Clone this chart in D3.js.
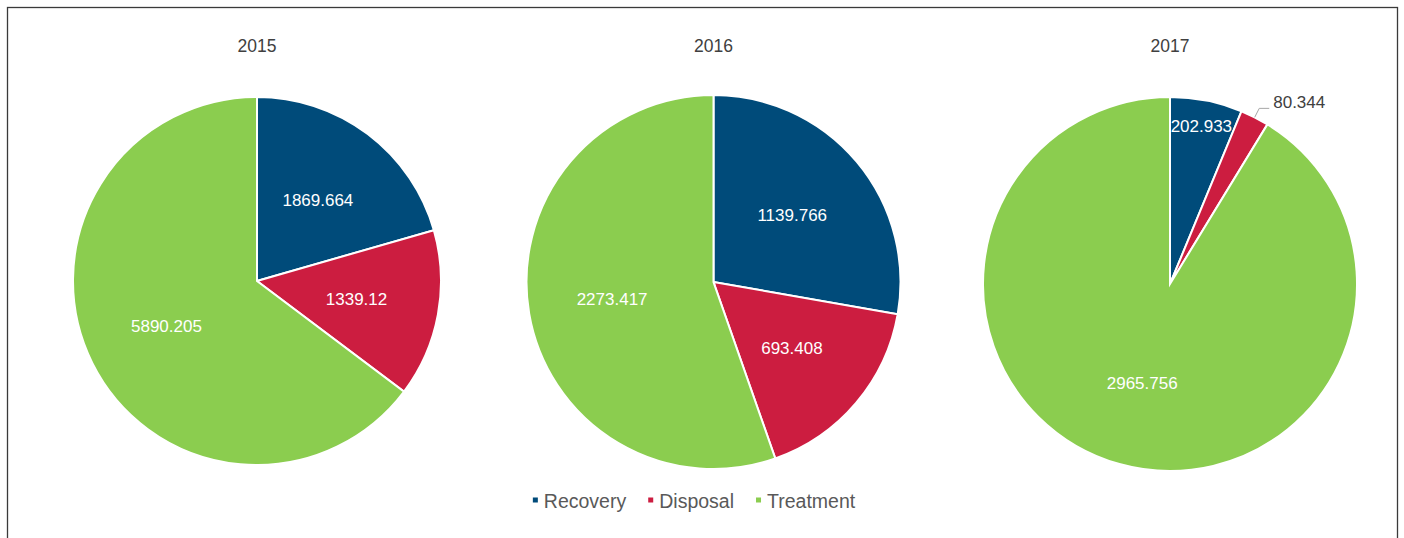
<!DOCTYPE html>
<html lang="en">
<head>
<meta charset="UTF-8">
<title>Waste by year</title>
<style>
  body { margin: 0; background: #fff; }
  text { font-family: "Liberation Sans", Arial, sans-serif; }
</style>
</head>
<body>
<script src="https://d3js.org/d3.v7.min.js"></script>
<script>
    // data
    const years = ["2015", "2016", "2017"];
    const categories = ["Recovery", "Disposal", "Treatment"];
    const recovery = [1869.664, 1139.766, 202.933];
    const disposal = [1339.12, 693.408, 80.344];
    const treatment = [5890.205, 2273.417, 2965.756];

    const colors = ["#004b7a", "#cc1d40", "#8bcd4f"];

    const width = 1404, height = 538;
    // layout per pie (Excel sized them slightly differently)
    const radii = [184, 187, 187];
    const centerY = [281, 282, 284];

    const svg = d3.select("body").append("svg")
        .attr("width", width)
        .attr("height", height);

    // frame
    svg.append("rect")
        .attr("x", 7.5).attr("y", 7.5)
        .attr("width", 1390).attr("height", 560)
        .attr("fill", "none")
        .attr("stroke", "#3a3a3a")
        .attr("stroke-width", 1.3);

    const x = d3.scalePoint().domain(years).range([257, 1170]);
    const color = d3.scaleOrdinal().domain(categories).range(colors);

    const pie = d3.pie().sort(null).value(d => d.value);

    years.forEach(function(year, i) {
        const values = [recovery[i], disposal[i], treatment[i]];
        const data = categories.map((c, k) => ({ cat: c, value: values[k] }));
        const r = radii[i];
        const arc = d3.arc().innerRadius(0).outerRadius(r);
        const g = svg.append("g")
            .attr("transform", "translate(" + x(year) + "," + centerY[i] + ")");

        svg.append("text")
            .attr("x", x(year))
            .attr("y", 52)
            .attr("text-anchor", "middle")
            .attr("fill", "#404040")
            .style("font-size", "17.5px")
            .text(year);

        const arcs = pie(data);
        g.selectAll("path")
            .data(arcs)
            .enter()
            .append("path")
            .attr("d", arc)
            .attr("fill", d => color(d.data.cat))
            .attr("stroke", "#fff")
            .attr("stroke-width", 2);

        arcs.forEach(function(d) {
            const span = d.endAngle - d.startAngle;
            const mid = (d.startAngle + d.endAngle) / 2;
            if (span < 0.25) {
                // thin slice: label outside with leader line
                const p0 = [Math.sin(mid) * r, -Math.cos(mid) * r];
                const p1 = [Math.sin(mid) * (r + 10), -Math.cos(mid) * (r + 10)];
                const p2 = [p1[0] + 10, p1[1]];
                g.append("polyline")
                    .attr("points", [p0, p1, p2].map(p => p.join(",")).join(" "))
                    .attr("fill", "none")
                    .attr("stroke", "#a6a6a6")
                    .attr("stroke-width", 1);
                g.append("text")
                    .attr("x", p2[0] + 4)
                    .attr("y", p2[1] - 6)
                    .attr("dominant-baseline", "central")
                    .attr("fill", "#404040")
                    .style("font-size", "17px")
                    .text(d.data.value);
            } else {
                const lr = span < 0.6 ? r * 0.86 : r * 0.55;
                g.append("text")
                    .attr("x", Math.sin(mid) * lr)
                    .attr("y", -Math.cos(mid) * lr)
                    .attr("text-anchor", "middle")
                    .attr("dominant-baseline", "central")
                    .attr("fill", "#fff")
                    .style("font-size", "17px")
                    .text(d.data.value);
            }
        });
    });

    // legend
    const legend = svg.append("g");
    let lx = 0;
    categories.forEach(function(c) {
        const item = legend.append("g").attr("transform", "translate(" + lx + ",0)");
        item.append("rect")
            .attr("x", 0).attr("y", -10.5)
            .attr("width", 5).attr("height", 5)
            .attr("fill", color(c));
        const t = item.append("text")
            .attr("x", 11)
            .attr("y", 0)
            .attr("fill", "#595959")
            .style("font-size", "19.5px")
            .text(c);
        lx += 11 + t.node().getComputedTextLength() + 22;
    });
    const lw = lx - 22;
    legend.attr("transform", "translate(" + (694 - lw / 2) + ",508)");
</script>
</body>
</html>
